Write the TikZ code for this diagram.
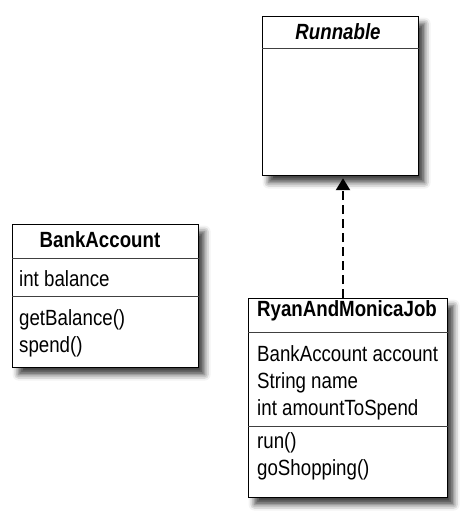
\documentclass[tikz,border=0pt]{standalone}
\usepackage{fontspec}
\setmainfont{Liberation Sans}[FakeStretch=0.85]
\usetikzlibrary{arrows.meta,shadows.blur}
\begin{document}
\begin{tikzpicture}[x=1pt,y=-1pt,
  classbox/.style={draw=black, line width=1.2pt, fill=white, inner sep=0pt, anchor=north west,
    blur shadow={shadow xshift=6pt, shadow yshift=-7pt, shadow blur radius=6pt, shadow opacity=75}},
  divider/.style={draw=black!75, line width=1pt},
  txt/.style={font=\fontsize{22pt}{27pt}\selectfont, inner sep=0pt},
  ltxt/.style={txt, anchor=base west},
  ttl/.style={txt, anchor=base, font=\fontsize{22pt}{27pt}\selectfont\bfseries},
  dep/.style={line width=2.2pt, dash pattern=on 9pt off 5pt, -{Triangle[width=14pt,length=12pt]}}]
\useasboundingbox (0,0) rectangle (470,522);

% Runnable
\node[classbox, minimum width=156pt, minimum height=159pt] (runnable) at (262,16) {};
\draw[divider] ([yshift=-32pt]runnable.north west) -- ([yshift=-32pt]runnable.north east);
\node[ttl, font=\fontsize{22pt}{27pt}\selectfont\bfseries\itshape] (runtitle) at (338,39) {Runnable};

% BankAccount
\node[classbox, minimum width=186pt, minimum height=143pt] (bank) at (12,224) {};
\draw[divider] ([yshift=-34pt]bank.north west) -- ([yshift=-34pt]bank.north east);
\draw[divider] ([yshift=-72pt]bank.north west) -- ([yshift=-72pt]bank.north east);
\node[ttl] (banktitle) at (100,247) {BankAccount};
\node[ltxt] (bal) at (19,286) {int balance};
\node[ltxt] (getbal) at (19,325) {getBalance()};
\node[ltxt] (spend) at (19,352) {spend()};

% RyanAndMonicaJob
\node[classbox, minimum width=199pt, minimum height=199pt] (ryan) at (248,298) {};
\draw[divider] ([yshift=-34pt]ryan.north west) -- ([yshift=-34pt]ryan.north east);
\draw[divider] ([yshift=-128pt]ryan.north west) -- ([yshift=-128pt]ryan.north east);
\node[ttl] (ryantitle) at (347,316) {RyanAndMonicaJob};
\node[ltxt] (acc) at (257,361) {BankAccount account};
\node[ltxt] (nm) at (257,388) {String name};
\node[ltxt] (amt) at (257,415) {int amountToSpend};
\node[ltxt] (run) at (257,448) {run()};
\node[ltxt] (shop) at (257,475) {goShopping()};

% dependency arrow
\coordinate (ax) at (343,0);
\draw[dep] (ax |- ryan.north) -- ([yshift=-2pt]ax |- runnable.south);
\end{tikzpicture}
\end{document}
